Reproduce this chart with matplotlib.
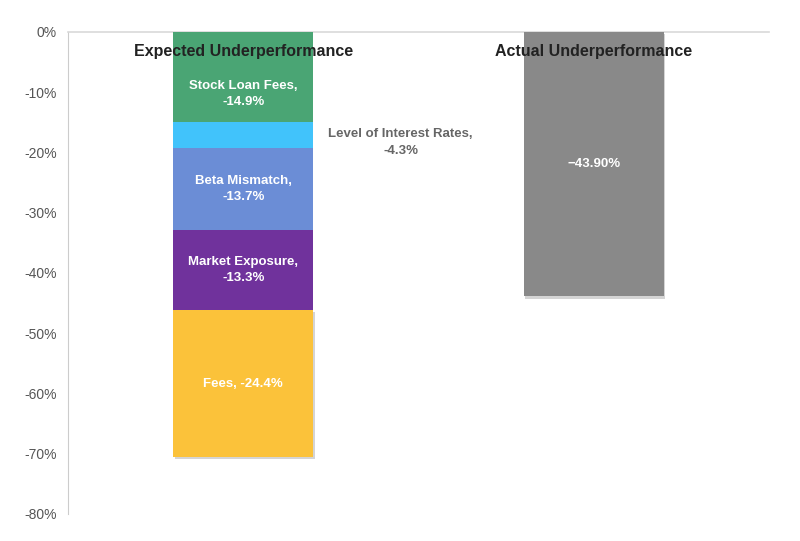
import matplotlib
matplotlib.use('Agg')
import matplotlib.pyplot as plt
import matplotlib.patheffects as pe

plt.rcParams['font.family'] = ['Liberation Sans', 'DejaVu Sans']

# data
groups = ['Expected Underperformance', 'Actual Underperformance']
components = ['Stock Loan Fees', 'Level of Interest Rates', 'Beta Mismatch', 'Market Exposure', 'Fees']
values = [-14.9, -4.3, -13.7, -13.3, -24.4]
colors = ['#4aa574', '#41c3fb', '#6b8dd6', '#70329c', '#fbc23a']
actual = -43.9
yticks = [0, -10, -20, -30, -40, -50, -60, -70, -80]

fig = plt.figure(figsize=(8, 5.41), dpi=100)
ax = fig.add_axes([0.085, 0.050, 0.876, 0.891])

shadow = [pe.SimplePatchShadow(offset=(1, -1.5), shadow_rgbFace='#aaaaaa', alpha=0.5), pe.Normal()]

bottom = 0
w = 0.4
for i, (name, v, c) in enumerate(zip(components, values, colors)):
    ax.bar(0, v, w, bottom=bottom, color=c, path_effects=shadow if i == len(values) - 1 else None, zorder=3)
    mid = bottom + v / 2
    if name == 'Level of Interest Rates':
        # label sits outside the thin slice
        ax.text(0.449, mid - 1.3, name + ',\n' + '%.1f%%' % v, ha='center', va='center',
                color='#666666', fontsize=9.5, fontweight='bold', linespacing=1.45, zorder=5)
    else:
        if i == 0:
            mid = mid - 2.8  # keep clear of the header
        ax.text(0, mid, name + ',\n' + '%.1f%%' % v if name != 'Fees' else name + ', %.1f%%' % v,
                ha='center', va='center', color='white', fontsize=9.5, fontweight='bold',
                linespacing=1.45, zorder=5)
    bottom += v

ax.bar(1, actual, w, color='#898989', path_effects=shadow, zorder=3)
ax.text(1, actual / 2, '\u2212%.2f%%' % abs(actual), ha='center', va='center',
        color='white', fontsize=9.5, fontweight='bold', zorder=5)

for x, g in enumerate(groups):
    ax.text(x, -3.2, g, ha='center', va='center', fontsize=11.5, fontweight='bold',
            color='#222222', zorder=6)

ax.set_xlim(-0.5, 1.5)
ax.set_ylim(-80, 0)
ax.set_yticks(yticks)
ax.set_yticklabels(['%d%%' % t for t in yticks])
ax.set_xticks([])
ax.tick_params(axis='y', length=0, pad=8, labelsize=10, labelcolor='#555555')

for s in ['right', 'bottom']:
    ax.spines[s].set_visible(False)
ax.spines['left'].set_color('#cccccc')
ax.spines['top'].set_color('#d9d9d9')
ax.spines['top'].set_linewidth(1.2)

fig.savefig('out.png', dpi=100)
